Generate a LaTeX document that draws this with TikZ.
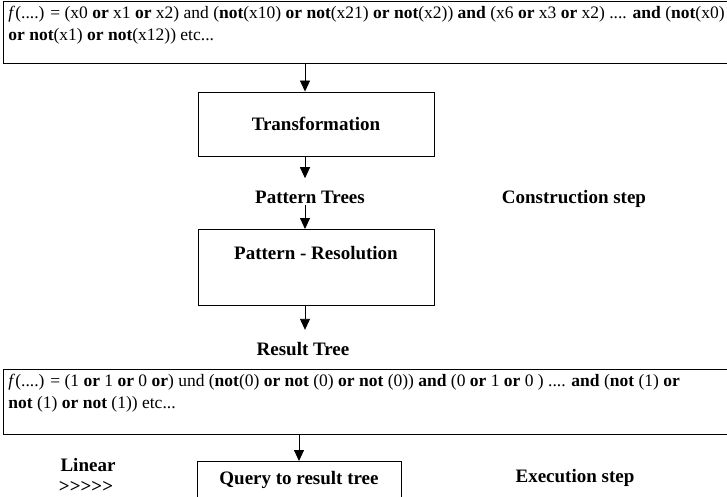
\documentclass[tikz,border=0pt]{standalone}
\usepackage{fontspec}
\setmainfont{Liberation Serif}
\usetikzlibrary{arrows.meta}

\begin{document}
\begin{tikzpicture}[x=1pt, y=-1pt, >={Triangle[length=11pt,width=10pt]}, line width=0.9pt]
\tikzset{
  formula/.style={draw, anchor=north west, inner sep=5pt, font=\fontsize{17.5}{22}\selectfont},
  stepbox/.style={draw, minimum width=236pt, font=\fontsize{19}{22}\selectfont\bfseries},
  lbl/.style={inner sep=1pt, font=\fontsize{19}{22}\selectfont\bfseries}
}
\useasboundingbox (0,0) rectangle (727,497);

% construction step
\node[formula] (f1) at (3,1) {\begin{minipage}[t][52pt]{740pt}
\textit{f}(....) = (x0 \textbf{or} x1 \textbf{or} x2) and (\textbf{not}(x10) \textbf{or} \textbf{not}(x21) \textbf{or} \textbf{not}(x2)) \textbf{and} (x6 \textbf{or} x3 \textbf{or} x2) .... \textbf{and} (\textbf{not}(x0)\\
\textbf{or} \textbf{not}(x1) \textbf{or} \textbf{not}(x12)) etc...
\end{minipage}};
\coordinate (axis) at (305,0);

\node[stepbox, minimum height=64pt] (tr) at (316,124) {Transformation};
\node[lbl] (pt) at (310,197) {Pattern Trees};
\node[stepbox, anchor=north, inner ysep=17pt, text depth=29pt] (pr) at (316,229) {Pattern - Resolution};
\node[lbl] (rt) at (303,349) {Result Tree};
\node[lbl] (cs) at (574,199) {Construction step};

\draw[->] (f1.south -| axis) -- (tr.north -| axis);
\draw[->, shorten >=11pt] (tr.south -| axis) -- (pt.north -| axis);
\draw[->] (pt.south -| axis) -- (pr.north -| axis);
\draw[->, shorten >=11pt] (pr.south -| axis) -- (rt.north -| axis);

% execution step
\node[formula] (f2) at (3,369) {\begin{minipage}[t][55pt]{740pt}
\textit{f}(....) = (1 \textbf{or} 1 \textbf{or} 0 \textbf{or}) und (\textbf{not}(0) \textbf{or} \textbf{not} (0) \textbf{or} \textbf{not} (0)) \textbf{and} (0 \textbf{or} 1 \textbf{or} 0 ) .... \textbf{and} (\textbf{not} (1) \textbf{or}\\
\textbf{not} (1) \textbf{or} \textbf{not} (1)) etc...
\end{minipage}};

\node[stepbox, anchor=north, minimum width=204pt, inner ysep=10pt, text depth=40pt] (qr) at (299,461) {Query to result tree};
\node[lbl] (ln) at (88,465) {Linear};
\node[lbl] (gt) at (86,487) {>\kern0pt>\kern0pt>\kern0pt>\kern0pt>};
\node[lbl] (es) at (575,478) {Execution step};

\draw[->] (f2.south -| qr.north) -- (qr.north);

\end{tikzpicture}
\end{document}
